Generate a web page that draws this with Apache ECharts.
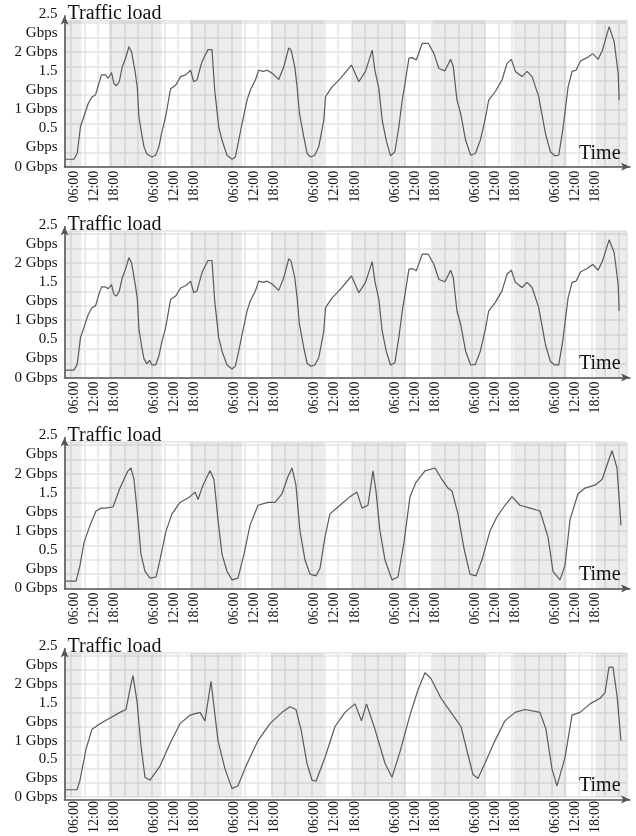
<!DOCTYPE html>
<html><head><meta charset="utf-8">
<script src="https://cdn.jsdelivr.net/npm/echarts@6/dist/echarts.min.js"></script>
<style>html,body{margin:0;padding:0;background:#fff}#c{width:636px;height:836px}</style>
</head><body><div id="c"></div>
<script>
// ---- data ----
const tickHours = [6,12,18,30,36,42,54,60,66,78,84,90,102,108,114,126,132,138,150,156,162];
const yTickValues = [0, 0.5, 1, 1.5, 2, 2.5];
const yTickLabels = ['0 Gbps', '0.5\nGbps', '1 Gbps', '1.5\nGbps', '2 Gbps', '2.5\nGbps'];
const bandStart = [3, 16.3, 40.6, 64.9, 89.2, 113.4, 137.6, 162.1];
const bandEnd   = [8.1, 32.1, 56.2, 80.7, 105.2, 129.1, 153.4, 171.4];

const p1Hours = [3.3,5.8,6.8,7.8,8.8,10.1,11.3,12.3,13.3,14.1,15.3,16.1,17.1,17.8,18.5,19.4,20.3,21.3,22.3,23.1,24.1,24.8,25.3,26.1,26.8,27.7,29.2,30.3,31.3,32.2,33.3,34.8,36.3,37.8,39.3,40.8,41.7,42.7,44.2,45.2,46.0,47.2,48.0,49.2,50.2,51.7,53.2,54.2,55.2,56.2,57.7,58.7,60.2,61.2,62.5,63.7,65.2,67.2,68.7,70.2,70.9,72.0,72.7,73.4,74.7,75.7,76.7,78.0,79.2,80.7,81.2,83.2,85.7,89.0,91.2,93.2,95.2,96.0,97.2,98.2,99.4,100.7,102.0,103.2,104.2,105.2,106.2,107.2,108.4,110.2,112.0,113.7,115.2,117.0,118.7,119.5,120.6,121.7,123.2,124.7,126.1,127.6,129.1,130.1,132.1,134.1,135.6,136.9,138.1,140.1,141.6,143.1,145.1,147.1,148.6,149.9,151.1,152.3,153.9,155.1,156.3,157.6,159.6,161.3,162.9,164.2,166.2,167.7,168.9,169.2];
const p1Load = [0.13,0.13,0.23,0.70,0.87,1.10,1.22,1.25,1.45,1.60,1.60,1.54,1.64,1.45,1.41,1.48,1.74,1.89,2.09,2.00,1.68,1.39,0.87,0.58,0.35,0.22,0.17,0.20,0.35,0.61,0.87,1.36,1.42,1.57,1.60,1.68,1.48,1.51,1.83,1.95,2.04,2.04,1.34,0.70,0.46,0.20,0.13,0.17,0.46,0.75,1.16,1.34,1.51,1.68,1.66,1.68,1.63,1.52,1.74,2.07,2.03,1.74,1.39,0.93,0.52,0.23,0.17,0.20,0.35,0.81,1.22,1.39,1.54,1.77,1.48,1.66,2.03,1.68,1.36,0.81,0.46,0.19,0.26,0.70,1.16,1.51,1.89,1.90,1.86,2.15,2.15,1.97,1.71,1.67,1.87,1.74,1.16,0.93,0.46,0.20,0.23,0.46,0.84,1.16,1.31,1.51,1.80,1.87,1.66,1.57,1.66,1.57,1.22,0.58,0.26,0.19,0.20,0.64,1.39,1.66,1.68,1.84,1.90,1.97,1.87,2.03,2.44,2.18,1.63,1.16];

const p2Hours = [3.3,5.8,6.8,7.8,8.8,10.1,11.3,12.3,13.3,14.1,15.3,16.1,17.1,17.8,18.5,19.4,20.3,21.3,22.3,23.1,24.1,24.8,25.3,26.1,26.8,27.7,28.5,29.2,30.3,31.3,32.2,33.3,34.8,36.3,37.8,39.3,40.8,41.7,42.7,44.2,45.2,46.0,47.2,48.0,49.2,50.2,51.7,53.2,54.2,55.2,56.2,57.7,58.7,60.2,61.2,62.5,63.7,65.2,67.2,68.7,70.2,70.9,72.0,72.7,73.4,74.7,75.7,76.7,78.0,79.2,80.7,81.2,83.2,85.7,89.0,91.2,93.2,95.2,96.0,97.2,98.2,99.4,100.7,102.0,103.2,104.2,105.2,106.2,107.2,108.4,110.2,112.0,113.7,115.2,117.0,118.7,119.5,120.6,121.7,123.2,124.7,126.1,127.6,129.1,130.1,132.1,134.1,135.6,136.9,138.1,140.1,141.6,143.1,145.1,147.1,148.6,149.9,151.1,152.3,153.9,155.1,156.3,157.6,159.6,161.3,162.9,164.2,166.2,167.7,168.9,169.2];
const p2Load = [0.13,0.13,0.23,0.70,0.87,1.10,1.22,1.25,1.45,1.58,1.58,1.55,1.62,1.45,1.42,1.50,1.74,1.89,2.09,2.00,1.66,1.39,0.85,0.55,0.33,0.24,0.30,0.22,0.22,0.38,0.63,0.87,1.36,1.42,1.56,1.60,1.68,1.48,1.51,1.83,1.95,2.04,2.04,1.34,0.70,0.46,0.22,0.15,0.20,0.46,0.75,1.16,1.34,1.51,1.68,1.66,1.68,1.63,1.52,1.74,2.07,2.03,1.74,1.39,0.93,0.52,0.25,0.20,0.22,0.35,0.81,1.22,1.39,1.54,1.77,1.48,1.66,2.02,1.68,1.36,0.81,0.46,0.22,0.26,0.70,1.16,1.51,1.89,1.90,1.86,2.15,2.15,1.97,1.71,1.67,1.87,1.74,1.16,0.93,0.46,0.22,0.23,0.46,0.84,1.16,1.31,1.51,1.80,1.87,1.66,1.57,1.66,1.57,1.22,0.58,0.28,0.22,0.22,0.64,1.39,1.66,1.68,1.84,1.90,1.97,1.87,2.03,2.40,2.18,1.63,1.16];

const p3Hours = [3.45,6.45,7.64,8.84,10.64,12.44,13.94,15.13,17.53,19.63,22.03,22.92,23.82,25.02,25.92,27.12,28.62,30.42,31.61,33.41,35.21,37.61,40.60,42.10,43.00,44.50,46.60,47.79,48.99,50.19,51.69,53.19,54.99,56.78,58.58,60.98,63.98,66.07,68.17,69.97,71.17,72.36,73.56,75.06,76.56,78.36,79.55,81.05,82.55,85.55,88.54,90.64,92.14,93.94,95.43,96.33,97.53,99.03,101.13,102.93,104.72,106.52,108.32,111.01,114.01,116.11,117.90,119.10,120.90,122.70,124.50,126.30,128.09,130.49,132.59,134.99,137.09,139.48,142.48,145.48,147.87,149.37,151.47,152.97,154.47,156.87,158.96,161.96,164.06,165.85,167.05,168.55,169.75];
const p3Load = [0.13,0.13,0.4,0.8,1.1,1.35,1.4,1.4,1.42,1.75,2.05,2.1,1.9,1.2,0.6,0.3,0.18,0.2,0.5,1.0,1.3,1.5,1.6,1.68,1.55,1.8,2.05,1.9,1.2,0.6,0.3,0.15,0.18,0.6,1.1,1.45,1.5,1.5,1.65,1.95,2.1,1.8,1.0,0.5,0.25,0.22,0.35,0.9,1.3,1.45,1.6,1.68,1.4,1.45,2.05,1.7,1.0,0.5,0.15,0.2,0.8,1.6,1.85,2.05,2.1,1.9,1.75,1.7,1.3,0.7,0.25,0.22,0.5,1.0,1.25,1.45,1.6,1.45,1.4,1.35,0.9,0.3,0.15,0.4,1.2,1.65,1.75,1.8,1.9,2.2,2.4,2.1,1.1];

const p4Hours = [3.45,6.75,7.64,9.44,11.24,13.64,16.63,19.63,21.43,22.92,23.52,24.72,25.92,27.12,28.62,31.61,34.61,37.61,40.60,43.60,45.10,46.90,47.79,48.99,51.09,53.19,54.99,57.38,60.98,64.57,68.17,70.57,72.36,73.86,75.66,77.16,78.36,81.05,84.05,87.05,90.04,91.99,93.49,96.03,99.03,101.13,103.52,106.52,108.92,111.01,112.81,115.81,118.80,121.80,123.90,125.40,126.89,128.99,131.99,134.99,137.98,140.98,145.48,147.27,149.07,150.57,152.97,155.07,157.46,160.46,163.46,164.96,166.15,167.35,168.55,169.75];
const p4Load = [0.13,0.13,0.3,0.85,1.2,1.3,1.4,1.5,1.55,2.0,2.15,1.7,0.9,0.35,0.3,0.55,0.95,1.3,1.45,1.5,1.35,2.05,1.6,1.0,0.5,0.15,0.2,0.55,1.0,1.3,1.5,1.6,1.55,1.2,0.6,0.3,0.28,0.7,1.25,1.5,1.65,1.35,1.65,1.2,0.6,0.35,0.8,1.45,1.9,2.2,2.1,1.75,1.5,1.25,0.75,0.4,0.33,0.6,1.0,1.35,1.5,1.55,1.5,1.2,0.5,0.2,0.7,1.45,1.5,1.65,1.75,1.85,2.3,2.3,1.8,1.0];

const panels = [[p1Hours,p1Load],[p2Hours,p2Load],[p3Hours,p3Load],[p4Hours,p4Load]];

// ---- layout ----
const FONT = 'Liberation Serif';
const X_MIN = 3, X_MAX = 171.4, Y_MAX = 2.55;
const LEFT = 64.5, PLOT_W = 562, PX_PER_G = 57.4;
const axisYs = [166.7, 377.6, 588.5, 799.4];
const pad = n => (n < 10 ? '0' : '') + n;

const grid = [], xAxis = [], yAxis = [], series = [], title = [];
axisYs.forEach((ay, k) => {
  const h = Y_MAX * PX_PER_G;
  grid.push({left: LEFT, top: ay - h, width: PLOT_W, height: h});
  grid.push({left: LEFT, top: ay - 151, width: 636 - 6 - LEFT, height: 151});
  xAxis.push({
    gridIndex: 2*k, type: 'value', min: X_MIN, max: X_MAX,
    axisLine: {show: false}, axisTick: {show: false}, splitLine: {show: false},
    axisLabel: {customValues: tickHours, rotate: 90, margin: 4, fontFamily: FONT, fontSize: 14, color: '#111',
      formatter: v => pad(Math.round(v) % 24) + ':00'}
  });
  xAxis.push({
    gridIndex: 2*k, type: 'value', min: (X_MIN - 1) / 4, max: (X_MAX - 1) / 4,
    splitNumber: 42, minInterval: 1, maxInterval: 1,
    axisLine: {show: false}, axisTick: {show: false}, axisLabel: {show: false},
    splitLine: {show: true, lineStyle: {color: '#e4e4e4', width: 1.5}}
  });
  xAxis.push({
    gridIndex: 2*k+1, type: 'value', min: 0, max: 1,
    axisLine: {show: true, symbol: ['none','arrow'], symbolSize: [6, 9], lineStyle: {color: '#555', width: 1.5}},
    axisTick: {show: false}, axisLabel: {show: false}, splitLine: {show: false}
  });
  yAxis.push({
    gridIndex: 2*k, type: 'value', min: 0, max: Y_MAX, interval: 0.25,
    axisLine: {show: false}, axisTick: {show: false},
    splitLine: {show: true, lineStyle: {color: '#e4e4e4', width: 1.5}},
    axisLabel: {showMaxLabel: false, margin: 7, fontFamily: FONT, fontSize: 15, lineHeight: 19, color: '#111',
      formatter: v => { const i = yTickValues.findIndex(t => Math.abs(t - v) < 1e-6); return i >= 0 ? yTickLabels[i] : ''; }}
  });
  yAxis.push({
    gridIndex: 2*k+1, type: 'value', min: 0, max: 1,
    axisLine: {show: true, symbol: ['none','arrow'], symbolSize: [6, 9], lineStyle: {color: '#555', width: 1.5}},
    axisTick: {show: false}, axisLabel: {show: false}, splitLine: {show: false}
  });
  const [hs, ls] = panels[k];
  series.push({
    type: 'line', xAxisIndex: 3*k, yAxisIndex: 2*k, showSymbol: false, symbol: 'none',
    data: hs.map((t, i) => [t, ls[i]]),
    lineStyle: {color: '#5a5a5a', width: 1.2},
    markArea: {silent: true, itemStyle: {color: 'rgba(0,0,0,0.075)'},
      data: bandStart.map((s, i) => [{xAxis: s}, {xAxis: bandEnd[i]}])}
  });
  const dy = ay - axisYs[0];
  title.push({text: 'Traffic load', left: 67.5, top: 4 + dy, padding: 0,
    textStyle: {fontFamily: FONT, fontSize: 20, fontWeight: 'normal', color: '#111', lineHeight: 20}});
  title.push({text: 'Time', left: 579, top: 143.3 + dy, padding: 0,
    textStyle: {fontFamily: FONT, fontSize: 20, fontWeight: 'normal', color: '#111', lineHeight: 20}});
});

const chart = echarts.init(document.getElementById('c'), null, {renderer: 'canvas'});
chart.setOption({animation: false, backgroundColor: '#fff', title, grid, xAxis, yAxis, series});
</script></body></html>
